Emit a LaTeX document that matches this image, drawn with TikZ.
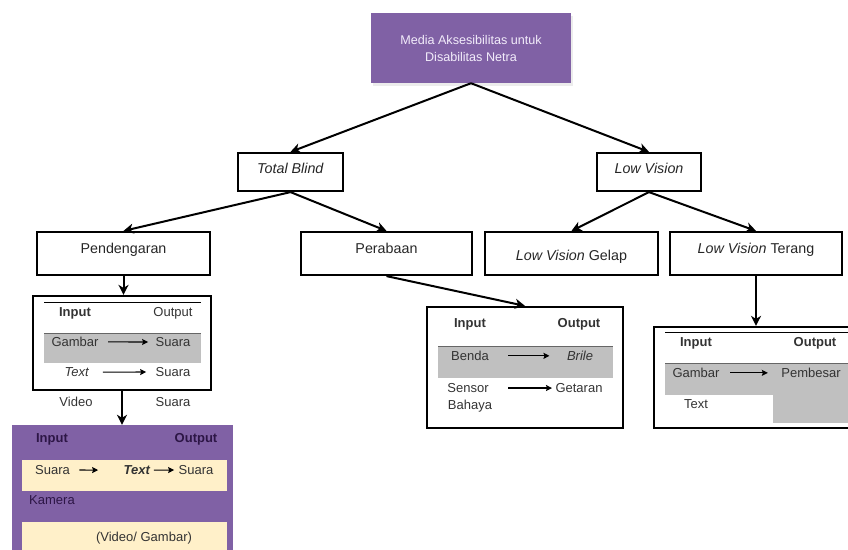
\documentclass[tikz,border=0pt]{standalone}
\usepackage{fontspec}
\setmainfont{Liberation Sans}
\usepackage{tikz}
\usetikzlibrary{calc}
\usetikzlibrary{shadows}
\usetikzlibrary{arrows.meta}

\definecolor{ungu}{RGB}{128,97,165}
\definecolor{lembayung}{RGB}{242,236,250}
\definecolor{krem}{RGB}{255,240,201}
\definecolor{abu}{RGB}{192,192,192}
\definecolor{ungutua}{RGB}{45,22,70}

\begin{document}
\begin{tikzpicture}[x=1pt, y=-1pt,
  kotak/.style={draw, line width=2.2pt, font=\fontsize{14.3}{17}\selectfont, text=black!85, text height=10pt, text depth=11pt},
  tabel/.style={draw, line width=2.2pt},
  isi/.style={anchor=base, font=\fontsize{13}{15}\selectfont, text=black!80},
  garis/.style={-{Stealth[length=10pt, width=10pt, inset=3pt]}, line width=2pt},
  panah/.style={-{Stealth[length=6pt, width=6pt, inset=1pt]}, line width=1.1pt}]
  \useasboundingbox (0,0) rectangle (848,549);

  \node[name=akar, fill=ungu, text=lembayung, align=center, minimum width=200pt, minimum height=70pt,
    font=\fontsize{12.6}{17}\selectfont, drop shadow={opacity=0.15, shadow xshift=2pt, shadow yshift=-3pt}]
    at (471,48) {Media Aksesibilitas untuk\\Disabilitas Netra};

  \node[name=tb, kotak, minimum width=105pt, minimum height=38pt, text depth=8pt] at (290.5,172) {\textit{Total Blind}};
  \node[name=lv, kotak, minimum width=104pt, minimum height=38pt, text depth=8pt] at (649,172) {\textit{Low Vision}};

  \node[name=dengar, kotak, minimum width=173pt, minimum height=43pt] at (123.5,253.5) {Pendengaran};
  \node[name=raba, kotak, minimum width=171pt, minimum height=43pt] at (386.5,253.5) {Perabaan};
  \node[name=gelap, kotak, minimum width=173pt, minimum height=43pt, text height=13pt, text depth=0pt] at (571.5,253.5) {\textit{Low Vision} Gelap};
  \node[name=terang, kotak, minimum width=172pt, minimum height=43pt] at (756,253.5) {\textit{Low Vision} Terang};

  \draw[garis] (akar.south) -- (tb.north);
  \draw[garis] (akar.south) -- (lv.north);
  \draw[garis] (tb.south) -- (dengar.north);
  \draw[garis] (tb.south) -- (raba.north);
  \draw[garis] (lv.south) -- (gelap.north);
  \draw[garis] (lv.south) -- (terang.north);

  \fill[abu] (44,333) rectangle (201,363);
  \draw[line width=1pt] (44,302) -- (201,302);
  \draw[line width=1pt, black!60] (44,333) -- (201,333);
  \node[name=tabel1, tabel, minimum width=178pt, minimum height=94pt] at (122,343) {};
  \node[name=in1, isi, font=\fontsize{13}{15}\selectfont\bfseries] at (75,316.5) {Input};
  \node[name=out1, isi] at (173,316.5) {Output};
  \node[name=g1, isi] at (75,346.5) {Gambar};
  \node[name=s1, isi] at (173,346.5) {Suara};
  \node[name=t1, isi] at (77,376.5) {\textit{Text}};
  \node[name=s2, isi] at (173,376.5) {Suara};
  \node[name=v1, isi] at (76,406.5) {Video};
  \node[name=s3, isi] at (173,406.5) {Suara};
  \draw[panah, shorten <=6pt, shorten >=4pt] (g1.east) -- (s1.west);
  \draw[panah, shorten <=10pt, shorten >=6pt] (t1.east) -- (s2.west);
  \draw[garis] (dengar.south) -- (dengar.south |- tabel1.north);

  \node[name=ungu2, fill=ungu, minimum width=221pt, minimum height=135pt] at (122.5,492.5) {};
  \fill[krem] (22,460) rectangle (227,491);
  \fill[krem] (22,522) rectangle (227,560);
  \draw[garis] (tabel1.south) -- (tabel1.south |- ungu2.north);
  \node[name=in2, isi, text=ungutua, font=\fontsize{13}{15}\selectfont\bfseries] at (52,442.5) {Input};
  \node[name=out2, isi, text=ungutua, font=\fontsize{13}{15}\selectfont\bfseries] at (196,442.5) {Output};
  \node[name=s4, isi] at (52.5,474.5) {Suara};
  \node[name=t2, isi] at (137,474.5) {\textbf{\textit{Text}}};
  \node[name=s5, isi] at (196,474.5) {Suara};
  \node[name=kam, isi, text=ungutua] at (52,504.5) {Kamera};
  \node[name=vg, isi] at (144,541.5) {(Video/ Gambar)};
  \draw[panah, shorten <=6pt, shorten >=22pt] (s4.east) -- (t2.west);
  \draw[panah, shorten <=0pt, shorten >=1pt] (t2.east) -- (s5.west);

  \fill[abu] (438,346) rectangle (613,378);
  \draw[line width=1pt, black!60] (438,346) -- (613,346);
  \node[name=tabel3, tabel, minimum width=196pt, minimum height=121pt] at (525,367.5) {};
  \node[name=in3, isi, font=\fontsize{13}{15}\selectfont\bfseries] at (470,327.5) {Input};
  \node[name=out3, isi, font=\fontsize{13}{15}\selectfont\bfseries] at (579,327.5) {Output};
  \node[name=be, isi] at (470,360.5) {Benda};
  \node[name=br, isi] at (580,360.5) {\textit{Brile}};
  \node[name=se, isi] at (468,392.5) {Sensor};
  \node[name=bh, isi] at (470,409.5) {Bahaya};
  \node[name=ge, isi] at (579,392.5) {Getaran};
  \draw[panah, shorten <=16pt, shorten >=14pt] (be.east) -- (br.west);
  \draw[panah, shorten <=16pt, shorten >=0pt] (se.east) -- (ge.west);
  \draw[garis] (raba.south) -- (tabel3.north);

  \fill[abu] (665,363) rectangle (848,395);
  \fill[abu] (773,395) rectangle (848,423);
  \draw[line width=1pt] (665,332) -- (848,332);
  \draw[line width=1pt, black!60] (665,363) -- (848,363);
  \node[name=tabel4, tabel, minimum width=196pt, minimum height=101pt] at (752,377.5) {};
  \node[name=in4, isi, font=\fontsize{13}{15}\selectfont\bfseries] at (696,346.5) {Input};
  \node[name=out4, isi, font=\fontsize{13}{15}\selectfont\bfseries] at (815,346.5) {Output};
  \node[name=ga, isi] at (696,377.5) {Gambar};
  \node[name=pb, isi] at (811,377.5) {Pembesar};
  \node[name=tx, isi] at (696,408.5) {Text};
  \draw[panah, shorten <=7pt, shorten >=10pt] (ga.east) -- (pb.west);
  \draw[garis] (terang.south) -- (terang.south |- tabel4.north);
\end{tikzpicture}
\end{document}
